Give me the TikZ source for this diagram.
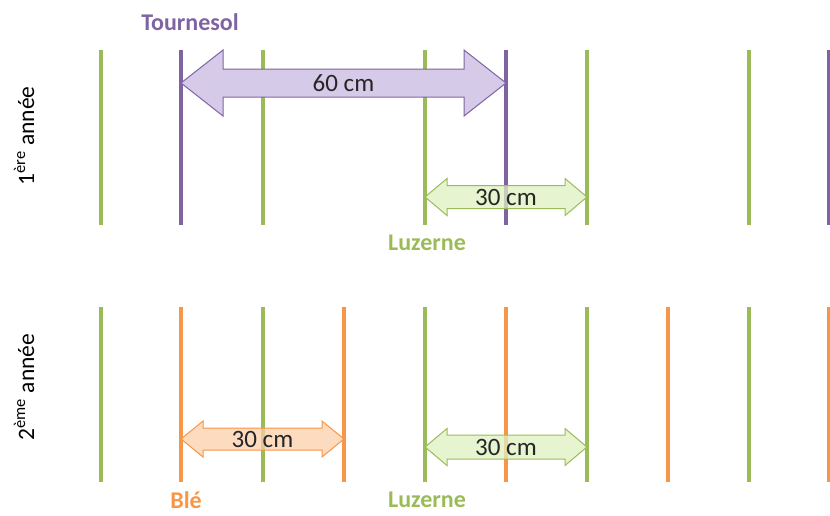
\documentclass[tikz,border=0pt]{standalone}
\usepackage{fontspec}
\setmainfont{Carlito}
\definecolor{lgreen}{HTML}{9BBB59}
\definecolor{lpurple}{HTML}{8064A2}
\definecolor{lorange}{HTML}{F79646}
\definecolor{fpurple}{HTML}{D5CAE8}
\definecolor{fgreen}{HTML}{DDF0C0}
\definecolor{forange}{HTML}{FBCFA8}
\definecolor{txt}{HTML}{262626}
\tikzset{
  row/.style={line width=3.5pt},
  gline/.style={row, draw=lgreen},
  pline/.style={row, draw=lpurple},
  oline/.style={row, draw=lorange},
  dimtext/.style={font=\fontsize{25}{28}\selectfont, text=txt, inner sep=0pt},
  croplabel/.style={font=\bfseries\fontsize{24}{27}\selectfont, inner sep=0pt},
  yearlabel/.style={font=\fontsize{23.5}{26}\selectfont, rotate=90, inner sep=0pt},
  parrow/.style={draw=lpurple, line width=1pt, fill=fpurple},
  garrow/.style={draw=lgreen, line width=1pt, fill=fgreen, fill opacity=0.75},
  oarrow/.style={draw=lorange, line width=1pt, fill=forange, fill opacity=0.75},
}
\newcommand{\dblarrow}[7]{% style, x1, x2, yc, shaft half, head half, head length
  \path[#1] (#2,#4) -- (#2+#7,#4-#6) -- (#2+#7,#4-#5) -- (#3-#7,#4-#5) -- (#3-#7,#4-#6) -- (#3,#4)
    -- (#3-#7,#4+#6) -- (#3-#7,#4+#5) -- (#2+#7,#4+#5) -- (#2+#7,#4+#6) -- cycle;}
\begin{document}
\begin{tikzpicture}[x=1pt,y=-1pt]
\useasboundingbox (0,0) rectangle (830,515);
% row 1
\foreach \x in {101,263,425,587,749} \draw[gline] (\x,50) -- (\x,225);
\foreach \x in {181,506,829} \draw[pline] (\x,50) -- (\x,225);
% row 2
\foreach \x in {101,263,425,587,749} \draw[gline] (\x,307) -- (\x,482);
\foreach \x in {181,344,506,668,829} \draw[oline] (\x,307) -- (\x,482);
% arrows
\dblarrow{parrow}{181}{506}{83}{14}{33}{42}
\node[dimtext] (d60) at (343.5,83) {60 cm};
\dblarrow{garrow}{425}{587}{197}{11.5}{18.5}{22}
\node[dimtext] (d30a) at (506,197) {30 cm};
\dblarrow{oarrow}{181}{344}{439}{11}{18}{22}
\node[dimtext] (d30b) at (262.5,439) {30 cm};
\dblarrow{garrow}{425}{587}{447}{12}{18.5}{22}
\node[dimtext] (d30c) at (506,447) {30 cm};
% labels
\node[croplabel, text=lpurple] (tour) at (190,22) {Tournesol};
\node[croplabel, text=lgreen] (luz1) at (427,243) {Luzerne};
\node[croplabel, text=lorange] (ble) at (186,500) {Blé};
\node[croplabel, text=lgreen] (luz2) at (427,500) {Luzerne};
\node[yearlabel] (y1) at (24,136) {1\textsuperscript{ère} année};
\node[yearlabel] (y2) at (24,387) {2\textsuperscript{ème} année};
\end{tikzpicture}
\end{document}
